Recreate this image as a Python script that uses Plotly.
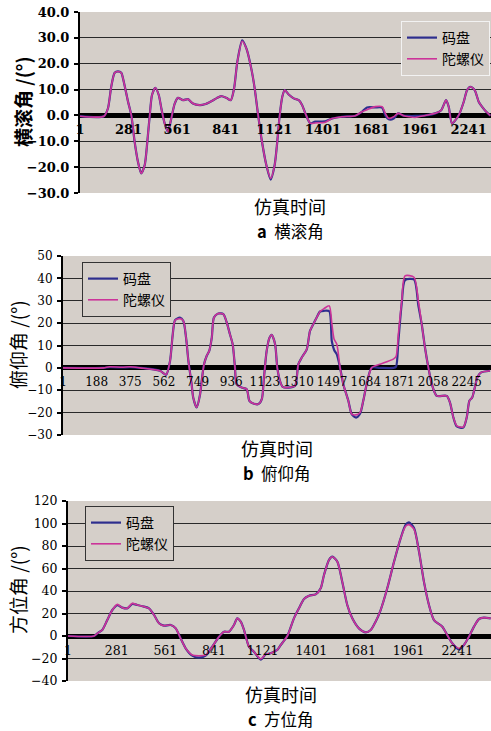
import plotly.graph_objects as go

W, H = 491, 731

# ---------------- data (sample index, degrees) ----------------
# a 横滚角
roll_t = [1, 139, 162, 181, 201, 220, 239, 249, 278, 297,
          316, 335, 354, 374, 389, 403, 416, 435, 455, 470,
          489, 508, 527, 547, 566, 595, 623, 652, 691, 720,
          758, 787, 815, 844, 870, 889, 908, 936, 960, 988,
          1008, 1027, 1050, 1075, 1100, 1123, 1138, 1152, 1167, 1181,
          1204, 1233, 1262, 1281, 1300, 1329, 1357, 1415, 1454, 1511,
          1588, 1626, 1655, 1703, 1742, 1761, 1780, 1809, 1834, 1867,
          1895, 1933, 1991, 2049, 2083, 2111, 2126, 2145, 2164, 2187,
          2213, 2232, 2251, 2276, 2299, 2318, 2341, 2366]
roll_encoder = [-0.3, -0.3, 2.7, 11.1, 16.5, 17.0, 16.5, 14.3, 5.3, 0.0,
                -10.2, -17.9, -22.4, -19.2, -10.2, 0.0, 7.9, 10.7, 7.9, 2.7,
                -3.1, -6.3, -1.2, 4.6, 6.8, 5.9, 6.3, 4.6, 4.0, 4.3,
                5.5, 6.6, 7.5, 6.8, 5.9, 10.4, 20.8, 29.0, 25.9, 18.2,
                10.4, 0.5, -10.2, -19.2, -24.8, -19.2, -10.2, 0.0, 7.2, 9.8,
                8.1, 6.6, 5.9, 4.0, 0.8, -3.1, -2.4, -2.3, -1.2, -0.5,
                -0.1, 1.4, 3.1, 3.1, 3.0, 0.0, -1.5, -1.2, 0.8, -0.1,
                -0.2, -0.2, 0.0, 0.8, 2.0, 5.9, 3.4, -3.1, -1.9, 0.5,
                5.3, 9.8, 11.1, 9.8, 5.3, 3.4, 1.5, -0.1]
roll_gyro = [-0.3, -0.3, 2.7, 11.1, 16.5, 17.0, 16.5, 14.3, 5.3, 0.0,
             -10.2, -17.9, -22.4, -19.2, -10.2, 0.0, 7.9, 10.7, 7.9, 2.7,
             -3.1, -6.3, -1.2, 4.6, 6.8, 5.9, 6.3, 4.6, 4.0, 4.3,
             5.5, 6.6, 7.5, 6.8, 5.9, 10.4, 20.8, 28.7, 25.9, 18.2,
             10.4, 0.5, -10.2, -19.2, -24.4, -19.2, -10.2, 0.0, 7.2, 9.8,
             8.1, 6.6, 5.9, 4.0, 0.8, -3.1, -2.9, -2.6, -1.2, -0.5,
             -0.1, 1.4, 2.2, 3.4, 3.4, 0.8, -1.1, -0.5, 0.8, -0.1,
             -0.5, -0.8, 0.0, 0.8, 2.0, 5.9, 3.4, -3.1, -1.9, 0.5,
             5.3, 9.8, 11.1, 9.8, 5.3, 3.4, 1.5, -0.1]
roll_ticks = [1, 281, 561, 841, 1121, 1401, 1681, 1961, 2241]
roll_yticks = [-30, -20, -10, 0, 10, 20, 30, 40]

# b 俯仰角
pitch_t = [1, 225, 260, 330, 373, 430, 540, 574, 596, 611,
           624, 651, 670, 685, 698, 716, 725, 744, 763, 772,
           785, 800, 814, 828, 840, 864, 892, 911, 929, 944,
           957, 966, 994, 1022, 1037, 1059, 1087, 1106, 1118, 1133,
           1148, 1161, 1180, 1192, 1207, 1222, 1253, 1291, 1309, 1328,
           1356, 1374, 1392, 1411, 1430, 1452, 1481, 1495, 1508, 1523,
           1541, 1559, 1587, 1606, 1630, 1652, 1670, 1689, 1717, 1763,
           1837, 1852, 1865, 1884, 1902, 1952, 1976, 1995, 2013, 2032,
           2051, 2078, 2134, 2152, 2171, 2190, 2226, 2245, 2260, 2275,
           2290, 2304, 2323, 2375]
pitch_encoder = [0, 0, 0.3, 0.2, 0.3, 0, -1.3, -3.1, 3.1, 15,
                 21.3, 22.5, 21, 13.5, 3.1, -7.3, -13.3, -17.7, -11.8, -5.8,
                 1.6, 5.4, 7.6, 13.5, 22.5, 24.3, 24, 20.3, 15, 10.6,
                 0.1, -7.3, -8.8, -9.5, -14.7, -15.9, -16.2, -14, -4.3, 7.6,
                 13.3, 14.8, 10.6, 0.1, -5.8, -8.5, -8.8, -8, 1.6, 4.6,
                 8.3, 16.5, 19.5, 22.5, 25.2, 25.5, 25.3, 12, 8, 6,
                 0.1, -7.3, -14.7, -20.7, -22.2, -20.5, -14.7, -7.3, 0.1, 0,
                 0, 0.5, 12, 29, 39.2, 39.5, 28, 19.5, 9.1, 0.1,
                 -7.3, -12.5, -12.5, -15.5, -22.2, -26.2, -26.7, -22.2, -14.7, -13.3,
                 -8.8, -4.3, -2.1, -1.3]
pitch_gyro = [0, 0, 0.5, 0.3, 0.5, 0, -1.3, -3.1, 3.1, 15,
              21.3, 22.0, 21, 13.5, 3.1, -7.3, -13.3, -17.7, -11.8, -5.8,
              1.6, 5.4, 7.6, 13.5, 22.5, 24.3, 24, 20.3, 15, 10.6,
              0.1, -7.3, -8.8, -9.5, -14.7, -15.9, -16.2, -14, -4.3, 7.6,
              13.3, 14.8, 10.6, 0.1, -5.8, -8.5, -8.8, -8, 1.6, 4.6,
              8.3, 16.5, 19.5, 22.5, 25.2, 26.5, 27.7, 20, 12.8, 10.6,
              0.1, -7.3, -14.7, -20.7, -21, -20, -14.7, -7.3, 0.1, 1.6,
              3.9, 5, 15, 30, 41.1, 40.5, 30, 19.5, 9.1, 0.1,
              -7.3, -12.5, -12.5, -15.5, -22.2, -25.9, -26.4, -22.2, -14.7, -13.3,
              -8.8, -4.3, -2.1, -1.3]
pitch_ticks = [1, 188, 375, 562, 749, 936, 1123, 1310, 1497, 1684, 1871, 2058, 2245]
pitch_yticks = [-30, -20, -10, 0, 10, 20, 30, 40, 50]

# c 方位角
yaw_t = [1, 151, 170, 198, 227, 256, 285, 313, 342, 371,
         400, 438, 467, 496, 525, 553, 592, 621, 649, 678,
         716, 755, 793, 831, 870, 899, 927, 956, 975, 995,
         1014, 1042, 1071, 1110, 1138, 1167, 1205, 1225, 1263, 1301,
         1330, 1359, 1388, 1426, 1455, 1474, 1503, 1522, 1551, 1579,
         1608, 1637, 1675, 1714, 1743, 1771, 1800, 1838, 1877, 1915,
         1944, 1963, 1992, 2021, 2049, 2078, 2107, 2155, 2183, 2212,
         2251, 2279, 2308, 2337, 2366, 2394, 2433]
yaw_encoder = [0, 0, 2.4, 5.3, 14.2, 23.1, 27.5, 25.2, 24.6, 28.5,
               27.6, 26.1, 24.6, 18.7, 11.3, 9.2, 9.8, 6.8, -2.1, -10.9,
               -17.5, -19.3, -17.5, -9.5, -0.6, 3.8, 3.8, 9.8, 15.7, 12.7,
               5.3, -9.5, -14, -21, -16.3, -15.4, -12.4, -8, 0, 15.7,
               24.6, 32.9, 35.8, 37, 42.4, 54.2, 67.6, 70.5, 66, 48.3,
               27.6, 15.7, 6.8, 3.3, 5.3, 12.7, 23.1, 42.4, 66, 86.8,
               99, 101, 96, 74.9, 48.3, 27.6, 14.2, 8.3, 0.9, -6.5,
               -12, -8, -0.6, 8.3, 15.1, 16.3, 15.7]
yaw_gyro = [0, 0, 2.4, 5.3, 14.2, 23.1, 28.1, 25.2, 24.6, 29.0,
            27.6, 26.1, 24.6, 18.7, 11.3, 9.2, 9.8, 6.8, -2.1, -10.9,
            -16.9, -17.5, -16.9, -9.5, -0.6, 3.8, 3.8, 9.8, 15.7, 12.7,
            5.3, -9.5, -14, -20.4, -16.3, -15.4, -12.4, -8, 0, 15.7,
            24.6, 32.9, 35.8, 37, 42.4, 54.2, 67.6, 70.5, 66, 48.3,
            27.6, 15.7, 6.8, 3.3, 5.3, 12.7, 23.1, 42.4, 66, 86.8,
            97.5, 99, 95, 74.9, 48.3, 27.6, 14.2, 8.3, 0.9, -6.5,
            -10.9, -8, -0.6, 8.3, 15.1, 16.3, 15.7]
yaw_ticks = [1, 281, 561, 841, 1121, 1401, 1681, 1961, 2241]
yaw_yticks = [-40, -20, 0, 20, 40, 60, 80, 100, 120]

series_names = ["码盘", "陀螺仪"]
panel_titles = ["<b>a</b>  横滚角", "<b>b</b>  俯仰角", "<b>c</b>  方位角"]
y_titles = ["横滚角 /(°)", "俯仰角 /(°)", "方位角 /(°)"]
x_title = "仿真时间"

# ---------------- style ----------------
BG = "#d5cfc9"
C_ENC = "#2e2e8e"
C_GYR = "#cc3399"
CJK = "Noto Sans CJK SC"
SERIF = "DejaVu Serif"

panels = [
    dict(t=roll_t, e=roll_encoder, g=roll_gyro, xt=roll_ticks, yt=roll_yticks,
         left=80, top=12, bottom=193, xend=2370, yr=[-30, 40], fmt=".1f",
         tickfont=dict(family=SERIF, size=13, color="black", weight="bold"),
         leg=dict(x=401, y=21, border="#f2f2f2"),
         ytitle=dict(x=22, y=102, size=19, weight="bold"),
         xtitle_y=206, sub_y=231, cx=290),
    dict(t=pitch_t, e=pitch_encoder, g=pitch_gyro, xt=pitch_ticks, yt=pitch_yticks,
         left=63, top=256, bottom=435, xend=2380, yr=[-30, 50], fmt="d",
         tickfont=dict(family=SERIF, size=12, color="black"),
         leg=dict(x=82, y=262, border="#333333"),
         ytitle=dict(x=18, y=345, size=19, weight="normal"),
         xtitle_y=448, sub_y=473, cx=277),
    dict(t=yaw_t, e=yaw_encoder, g=yaw_gyro, xt=yaw_ticks, yt=yaw_yticks,
         left=68, top=501, bottom=681, xend=2435, yr=[-40, 120], fmt="d",
         tickfont=dict(family=SERIF, size=12.5, color="black"),
         leg=dict(x=85, y=506, border="#333333"),
         ytitle=dict(x=17, y=590, size=19, weight="normal"),
         xtitle_y=694, sub_y=719, cx=281),
]

fig = go.Figure()
layout = dict(width=W, height=H, margin=dict(l=0, r=0, t=0, b=0, autoexpand=False),
              paper_bgcolor="white", plot_bgcolor=BG, showlegend=True)
annotations = []

for i, p in enumerate(panels):
    k = "" if i == 0 else str(i + 1)
    xa, ya = "x" + k, "y" + k
    leg = "legend" + k
    fig.add_trace(go.Scatter(x=p["t"], y=p["e"], mode="lines", name=series_names[0],
                             line=dict(color=C_ENC, width=2.2, shape="spline", smoothing=0.7),
                             xaxis=xa, yaxis=ya, legend=leg))
    fig.add_trace(go.Scatter(x=p["t"], y=p["g"], mode="lines", name=series_names[1],
                             line=dict(color=C_GYR, width=1.6, shape="spline", smoothing=0.7),
                             xaxis=xa, yaxis=ya, legend=leg))
    y0 = 1 - p["bottom"] / H
    y1 = 1 - p["top"] / H
    ymin, ymax = p["yr"]
    zero_pos = y0 + (0 - ymin) / (ymax - ymin) * (y1 - y0)
    layout["xaxis" + k] = dict(
        domain=[p["left"] / W, 1.0], range=[1, p["xend"]], anchor="free", position=zero_pos,
        tickmode="array", tickvals=p["xt"], ticktext=[str(v) for v in p["xt"]],
        tickangle=0, ticks="", showline=False, showgrid=False, zeroline=False,
        tickfont=p["tickfont"], ticklabelstandoff=5)
    layout["yaxis" + k] = dict(
        domain=[y0, y1], range=p["yr"], anchor=xa,
        tickmode="array", tickvals=p["yt"],
        ticktext=[(format(v, ".1f") if p["fmt"] == ".1f" else str(v)).replace("-", "−") for v in p["yt"]],
        ticks="outside", ticklen=4, tickcolor="black", tickwidth=1.5,
        showline=True, linecolor="black", linewidth=2,
        showgrid=True, gridcolor="#2a2a2a", gridwidth=1.2,
        zeroline=True, zerolinecolor="black", zerolinewidth=5,
        tickfont=p["tickfont"], ticklabelstandoff=2)
    layout[leg] = dict(x=p["leg"]["x"] / W, y=1 - p["leg"]["y"] / H, xanchor="left", yanchor="top",
                       bgcolor=BG, bordercolor=p["leg"]["border"], borderwidth=1,
                       font=dict(family=CJK, size=14, color="black"),
                       itemwidth=30, tracegroupgap=0)
    annotations.append(dict(text=y_titles[i], textangle=-90, xref="paper", yref="paper",
                            x=p["ytitle"]["x"] / W, y=1 - p["ytitle"]["y"] / H,
                            xanchor="center", yanchor="middle", showarrow=False,
                            font=dict(family=CJK, size=p["ytitle"]["size"], color="black",
                                      weight=p["ytitle"]["weight"])))
    annotations.append(dict(text=x_title, xref="paper", yref="paper",
                            x=p["cx"] / W, y=1 - p["xtitle_y"] / H,
                            xanchor="center", yanchor="middle", showarrow=False,
                            font=dict(family=CJK, size=18, color="black")))
    annotations.append(dict(text=panel_titles[i], xref="paper", yref="paper",
                            x=p["cx"] / W, y=1 - p["sub_y"] / H,
                            xanchor="center", yanchor="middle", showarrow=False,
                            font=dict(family=CJK, size=16.5, color="black")))

layout["annotations"] = annotations
fig.update_layout(**layout)
fig.write_html("out.html", config={"displayModeBar": False},
               post_script="document.body.style.margin='0';document.body.style.padding='0';"
                           "document.body.style.overflow='hidden';")
